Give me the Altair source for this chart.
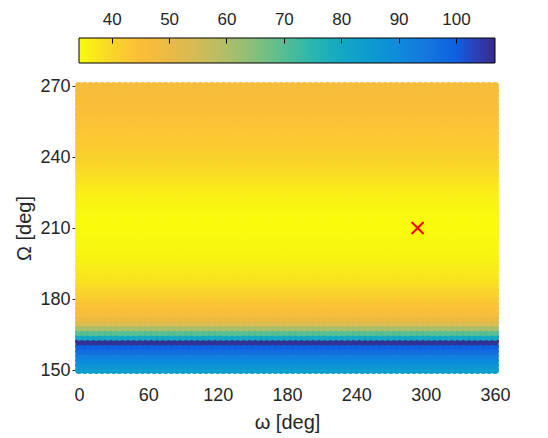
import altair as alt
import pandas as pd

# ---- data ----
OMEGA_SMALL = list(range(0, 361, 5))      # ω [deg] grid columns
OMEGA_BIG = list(range(150, 271, 2))      # Ω [deg] grid rows (bottom -> top)
ROW_VALUES = [
    84, 87, 90, 93, 97, 100, 106, 80, 70, 61,          # 150 .. 168
    53, 49, 46.5, 45.5, 44, 42.5, 41, 40, 39, 38,      # 170 .. 188
    37.5, 37, 36.5, 36, 35.5, 35.2, 35, 34.8, 34.6, 34.5,  # 190 .. 208
    34.4, 34.3, 34.4, 34.5, 34.8, 35.2, 35.6, 36, 36.6, 37.2,  # 210 .. 228
    37.8, 38.4, 39, 39.6, 40.2, 40.8, 41.3, 41.8, 42.3, 42.7,  # 230 .. 248
    43.1, 43.5, 43.9, 44.3, 44.7, 45.1, 45.5, 45.8, 46.1, 46.4,  # 250 .. 268
    46.7,                                              # 270
]
CROSS_OMEGA = [293]
CROSS_BIG = [210]

X_TICKS = [0, 60, 120, 180, 240, 300, 360]
Y_TICKS = [150, 180, 210, 240, 270]
CB_TICKS = [40, 50, 60, 70, 80, 90, 100]
CB_MIN, CB_MAX = 34.3, 106.8
COLOR_STOPS = [34.3, 40, 45, 50, 55, 60, 65, 70, 75, 80, 85, 90, 95, 100, 103.5, 106.8]
COLOR_HEX = ["#F9FB0E", "#F9D52A", "#FCBE38", "#EBBA45", "#D2BB57", "#B0BD68",
             "#85C07B", "#55BE92", "#2AB6AE", "#14A8C4", "#0D9BCF", "#0E8ADB",
             "#1477DE", "#0E60E0", "#2C40B8", "#342C88"]

FONT = "Liberation Sans"
TXT = "#262626"

rows = [{"w": w, "O": O, "v": v}
        for O, v in zip(OMEGA_BIG, ROW_VALUES) for w in OMEGA_SMALL]
df = pd.DataFrame(rows)
cross_df = pd.DataFrame({"w": CROSS_OMEGA, "O": CROSS_BIG})
cb_df = pd.DataFrame({"lo": [CB_MIN], "hi": [CB_MAX]})

xscale = alt.Scale(domain=[0, 360], nice=False, zero=False)
yscale = alt.Scale(domain=[150, 270], nice=False, zero=False)
color_scale = alt.Scale(domain=COLOR_STOPS, range=COLOR_HEX, interpolate="rgb")

scatter = alt.Chart(df).mark_circle(size=64, opacity=1).encode(
    x=alt.X("w:Q", scale=xscale, axis=alt.Axis(
        values=X_TICKS, title="ω [deg]", ticks=False, tickSize=0, domain=False,
        grid=False, labelFlush=False, labelFont=FONT, labelFontSize=18,
        labelColor=TXT, labelPadding=16, titleFont=FONT, titleFontSize=20,
        titleColor=TXT, titleFontWeight="normal", titlePadding=8)),
    y=alt.Y("O:Q", scale=yscale, axis=alt.Axis(
        values=Y_TICKS, title="Ω [deg]", ticks=True, tickSize=3, tickColor=TXT,
        domain=False, grid=False, offset=4, labelFlush=False, labelFont=FONT,
        labelFontSize=18, labelColor=TXT, labelPadding=2, titleFont=FONT,
        titleFontSize=20, titleColor=TXT, titleFontWeight="normal",
        titlePadding=5)),
    color=alt.Color("v:Q", scale=color_scale, legend=None),
)

cross = alt.Chart(cross_df).mark_point(
    shape="M-1,-1L1,1M-1,1L1,-1", size=144, filled=False,
    stroke="#FF0000", strokeWidth=2, opacity=1,
).encode(
    x=alt.X("w:Q", scale=xscale, axis=None),
    y=alt.Y("O:Q", scale=yscale),
)

span = CB_MAX - CB_MIN
gradient = alt.LinearGradient(
    gradient="linear", x1=0, x2=1, y1=0, y2=0,
    stops=[alt.GradientStop(color=c, offset=(s - CB_MIN) / span)
           for s, c in zip(COLOR_STOPS, COLOR_HEX)],
)

colorbar = alt.Chart(cb_df).mark_rect(
    fill=gradient, stroke="black", strokeWidth=1,
).encode(
    x=alt.X("lo:Q", scale=alt.Scale(domain=[CB_MIN, CB_MAX], nice=False, zero=False),
            axis=alt.Axis(orient="top", values=CB_TICKS, offset=43, domain=False,
                          ticks=True, tickSize=5, tickColor="black", grid=False,
                          labelFlush=False, labelFont=FONT, labelFontSize=17,
                          labelColor=TXT, labelPadding=10, title=None, zindex=2)),
    x2="hi:Q",
    y=alt.value(-48),
    y2=alt.value(-23),
)

chart = alt.layer(scatter, cross, colorbar).resolve_scale(
    x="independent"
).properties(
    width=416, height=284,
    padding={"left": 79, "top": 86, "right": 53, "bottom": 68},
    autosize=alt.AutoSizeParams(type="none"),
    background="white",
).configure_view(stroke=None)

chart.save("out.html", embed_options={"renderer": "svg", "actions": False})
